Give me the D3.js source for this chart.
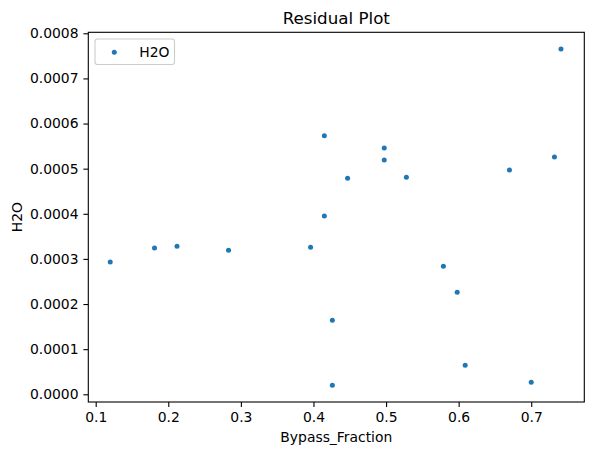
<!DOCTYPE html>
<html>
<head>
<meta charset="utf-8">
<script src="https://cdn.jsdelivr.net/npm/d3@7"></script>
<style>
  html, body { margin: 0; padding: 0; background: #fff; }
  svg { display: block; font-family: "DejaVu Sans", sans-serif; }
</style>
</head>
<body>
<svg id="chart" width="593" height="455"></svg>
<script>
const bypassFraction = [0.120, 0.181, 0.212, 0.283, 0.396, 0.415, 0.415, 0.426, 0.426, 0.447,
                        0.4975, 0.4975, 0.528, 0.579, 0.598, 0.609, 0.670, 0.700, 0.732, 0.741];
const h2oResidual = [0.000293, 0.000324, 0.000328, 0.000319, 0.000326, 0.000573, 0.000395, 0.000164, 0.000020, 0.000479,
                     0.000546, 0.000519, 0.000481, 0.000284, 0.000226, 0.0000643, 0.000497, 0.0000266, 0.000526, 0.000765];
const xTicks = [0.1, 0.2, 0.3, 0.4, 0.5, 0.6, 0.7];
const yTicks = [0, 0.0001, 0.0002, 0.0003, 0.0004, 0.0005, 0.0006, 0.0007, 0.0008];
const seriesName = "H2O";
const titleText = "Residual Plot";
const xLabel = "Bypass_Fraction";
const yLabel = "H2O";

const svg = d3.select("#chart");
const L = 88.3, R = 584.3, T = 32.3, B = 402;
const x = d3.scaleLinear().domain([0.0898, 0.7731]).range([L, R]);
const y = d3.scaleLinear().domain([-0.0000171, 0.0008022]).range([B, T]);
const color = "#1f77b4";

// axes
const xAxis = d3.axisBottom(x).tickValues(xTicks).tickFormat(d3.format(".1f")).tickSize(4.9).tickPadding(4.9);
const yAxis = d3.axisLeft(y).tickValues(yTicks).tickFormat(d3.format(".4f")).tickSize(4.9).tickPadding(4.9);

const gx = svg.append("g").attr("transform", `translate(0,${B})`).call(xAxis);
const gy = svg.append("g").attr("transform", `translate(${L},0)`).call(yAxis);
[gx, gy].forEach(g => {
  g.select(".domain").remove();
  g.selectAll(".tick line").attr("stroke", "#000").attr("stroke-width", 1.1);
  g.selectAll(".tick text").attr("fill", "#000").style("font-size", "13.9px").style("font-family", "DejaVu Sans");
});

// points
svg.append("g").selectAll("circle").data(bypassFraction.map((d, i) => [d, h2oResidual[i]]))
  .join("circle")
  .attr("cx", d => x(d[0])).attr("cy", d => y(d[1]))
  .attr("r", 2.5).attr("fill", color);

// spines
svg.append("rect").attr("x", L).attr("y", T).attr("width", R - L).attr("height", B - T)
  .attr("fill", "none").attr("stroke", "#000").attr("stroke-width", 1.1);

// title and labels
svg.append("text").attr("x", (L + R) / 2).attr("y", 24).attr("text-anchor", "middle")
  .style("font-size", "16.7px").text(titleText);
svg.append("text").attr("x", (L + R) / 2).attr("y", 442).attr("text-anchor", "middle")
  .style("font-size", "13.9px").text(xLabel);
svg.append("text").attr("transform", `translate(21.5,${(T + B) / 2}) rotate(-90)`).attr("text-anchor", "middle")
  .style("font-size", "13.9px").text(yLabel);

// legend
const lg = svg.append("g");
lg.append("rect").attr("x", 95).attr("y", 39).attr("width", 79.5).attr("height", 25.5)
  .attr("rx", 2.5).attr("fill", "#fff").attr("fill-opacity", 0.8)
  .attr("stroke", "#cccccc").attr("stroke-width", 1.1);
lg.append("circle").attr("cx", 114.3).attr("cy", 52.3).attr("r", 2.5).attr("fill", color);
lg.append("text").attr("x", 139.3).attr("y", 57.3).style("font-size", "13.9px").text(seriesName);
</script>
</body>
</html>
